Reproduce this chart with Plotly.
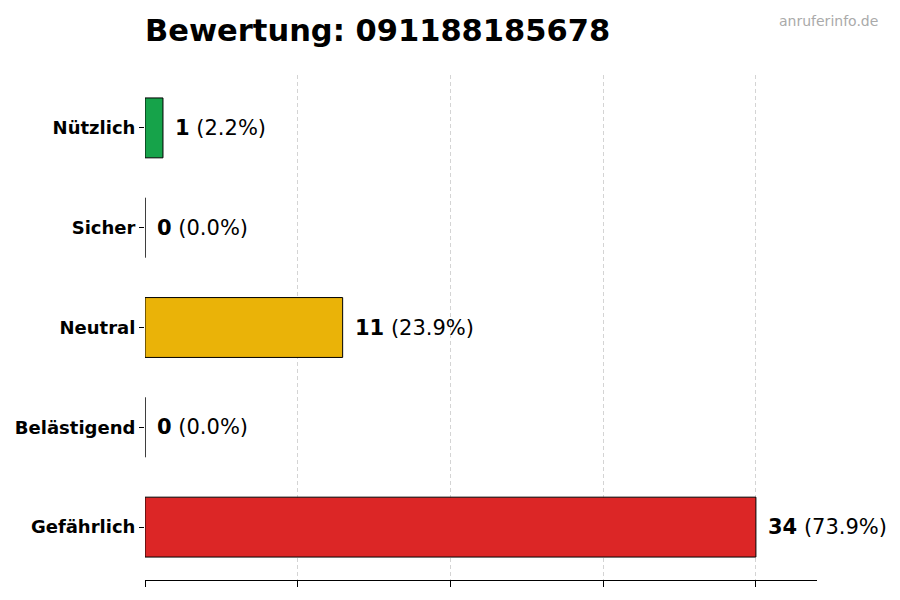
import plotly.graph_objects as go

# data
categories = ['Gefährlich', 'Belästigend', 'Neutral', 'Sicher', 'Nützlich']
counts = [34, 0, 11, 0, 1]
percents = [73.9, 0.0, 23.9, 0.0, 2.2]
colors = ['#dc2626', '#f97316', '#eab308', '#3b82f6', '#16a34a']
title = 'Bewertung: 091188185678'
watermark = 'anruferinfo.de'

font = 'DejaVu Sans'
max_count = max(counts)
tick_vals = [max_count * i / 4 for i in range(5)]

fig = go.Figure()
fig.add_trace(go.Bar(
    y = categories,
    x = counts,
    orientation = 'h',
    width = 0.6,
    marker = dict(color = colors, line = dict(color = 'black', width = 1)),
    hoverinfo = 'skip',
))

# value labels next to the bars
for cat, n, p in zip(categories, counts, percents):
    fig.add_annotation(
        x = n, y = cat,
        text = '<b>%d</b> (%.1f%%)' % (n, p),
        showarrow = False,
        xanchor = 'left',
        xshift = 10,
        font = dict(family = font, size = 21, color = 'black'),
    )

fig.add_annotation(
    x = 1.0, y = 1.0, xref = 'paper', yref = 'paper',
    xanchor = 'right', yanchor = 'bottom',
    text = watermark, showarrow = False,
    xshift = 63, yshift = 44,
    font = dict(family = font, size = 14, color = '#aaaaaa'),
)

# page body has an 8px margin, so margins are offset by that
fig.update_layout(
    width = 900,
    height = 600,
    margin = dict(l = 137, r = 91, t = 67, b = 28),
    plot_bgcolor = 'white',
    paper_bgcolor = 'white',
    showlegend = False,
    title = dict(
        text = '<b>' + title + '</b>',
        x = 137 / 900, xanchor = 'left',
        y = 0.963, yanchor = 'middle',
        font = dict(family = font, size = 30.5, color = 'black'),
    ),
    xaxis = dict(
        range = [0, max_count * 1.1],
        tickvals = tick_vals,
        showticklabels = False,
        ticks = 'outside', ticklen = 6, tickcolor = 'black',
        showline = True, linecolor = 'black', linewidth = 1,
        showgrid = True, gridcolor = '#d4d4d4', griddash = '4px,3px', gridwidth = 1,
        zeroline = False,
        automargin = False,
        fixedrange = True,
    ),
    yaxis = dict(
        categoryorder = 'array', categoryarray = categories,
        range = [-0.53, 4.53],
        ticks = 'outside', ticklen = 5, tickcolor = 'black',
        showline = False, showgrid = False, zeroline = False,
        tickfont = dict(family = font, size = 18, color = 'black'),
        ticklabelstandoff = 0,
        automargin = False,
    ),
)
fig.update_yaxes(ticktext = ['<b>%s</b>' % c for c in categories], tickvals = categories)

fig.write_html('out.html')
